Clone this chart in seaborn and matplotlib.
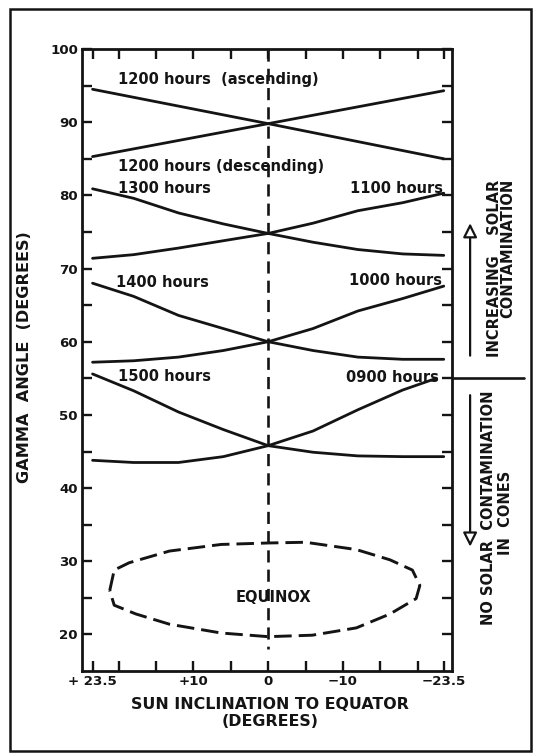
import pandas as pd
import matplotlib
matplotlib.use("Agg")
import matplotlib.pyplot as plt
import matplotlib.transforms as mtransforms
from matplotlib.patches import Rectangle
import seaborn as sns

#%% data
# sun inclination to equator (deg), +23.5 drawn on the left
incl = [23.5, 18, 12, 6, 0, -6, -12, -18, -23.5]
incl_straight = [23.5, 0, -23.5]
incl_0900 = [23.5, 18, 12, 6, 0, -6, -12, -18, -22.5]

gamma_1200_asc = [94.5, 89.8, 85.0]
gamma_1200_desc = [85.3, 89.8, 94.3]
gamma_1300 = [80.9, 79.6, 77.6, 76.1, 74.8, 73.6, 72.6, 72.0, 71.8]
gamma_1100 = [71.4, 71.9, 72.8, 73.8, 74.8, 76.2, 77.9, 79.0, 80.3]
gamma_1400 = [68.0, 66.2, 63.6, 61.8, 60.0, 58.8, 57.9, 57.6, 57.6]
gamma_1000 = [57.2, 57.4, 57.9, 58.8, 60.0, 61.8, 64.2, 65.9, 67.6]
gamma_1500 = [55.6, 53.3, 50.4, 48.0, 45.8, 44.9, 44.4, 44.3, 44.3]
gamma_0900 = [43.8, 43.5, 43.5, 44.3, 45.8, 47.8, 50.7, 53.4, 55.0]

# equinox loop
equinox_x = [21.2, 20.6, 18.6, 13.2, 6.3, 0, -5.0, -11.8, -16.3, -19.3, -20.3,
             -19.8, -16.3, -11.8, -5.9, 0, 6.3, 13.2, 17.7, 20.6, 21.2]
equinox_y = [26.0, 28.8, 29.8, 31.4, 32.3, 32.5, 32.6, 31.6, 30.2, 28.8, 26.7,
             24.9, 22.8, 20.9, 19.9, 19.7, 20.2, 21.4, 22.8, 24.0, 26.0]

equator_x = [0, 0]
equator_y = [100, 18]

threshold = 55  # solar contamination limit

labels = ["1200 hours  (ascending)", "1200 hours (descending)", "1300 hours",
          "1100 hours", "1400 hours", "1000 hours", "1500 hours", "0900 hours"]
label_x = [20.1, 20.1, 20.1, -23.4, 20.3, -23.2, 20.1, -22.9]
label_y = [95.9, 83.9, 80.9, 80.9, 68.1, 68.3, 55.3, 55.1]
label_ha = ["left", "left", "left", "right", "left", "right", "left", "right"]

xticks = [23.5, 20, 15, 10, 5, 0, -5, -10, -15, -20, -23.5]
xticklabels = ["+ 23.5", "", "", "+10", "", "0", "", "\u221210", "", "", "\u221223.5"]
yticks = list(range(20, 101, 5))
yticklabels = [str(v) if v % 10 == 0 else "" for v in yticks]

#%% long table for the hour curves
curves = [("1200a", incl_straight, gamma_1200_asc), ("1200d", incl_straight, gamma_1200_desc),
          ("1300", incl, gamma_1300), ("1100", incl, gamma_1100),
          ("1400", incl, gamma_1400), ("1000", incl, gamma_1000),
          ("1500", incl, gamma_1500), ("0900", incl_0900, gamma_0900)]
rows = []
for name, xs, ys in curves:
    for x, y in zip(xs, ys):
        rows.append({"curve": name, "incl": x, "gamma": y})
df = pd.DataFrame(rows)

ink = "#141414"

sns.set_theme(style="ticks")
plt.rcParams["font.family"] = ["DejaVu Sans"]
plt.rcParams["font.weight"] = "bold"

fig = plt.figure(figsize=(5.33, 7.54), dpi=100)
ax = fig.add_axes([0.154, 0.110, 0.694, 0.825])

sns.lineplot(data=df, x="incl", y="gamma", units="curve", estimator=None,
             sort=False, color=ink, lw=2.0, ax=ax)
sns.lineplot(x=equinox_x, y=equinox_y, estimator=None, sort=False, color=ink,
             lw=2.1, linestyle=(0, (6.0, 2.4)), ax=ax)
sns.lineplot(x=equator_x, y=equator_y, estimator=None, sort=False, color=ink,
             lw=1.9, linestyle=(0, (4.6, 2.7)), ax=ax)

for t, x, y, ha in zip(labels, label_x, label_y, label_ha):
    ax.text(x, y, t, ha=ha, va="center", fontsize=10.5, fontweight="bold", color=ink)
ax.text(-0.7, 25.1, "EQUINOX", ha="center", va="center", fontsize=10.5,
        fontweight="bold", color=ink)

ax.set_xlim(24.9, -24.6)
ax.set_ylim(15, 100)
ax.set_xticks(xticks)
ax.set_xticklabels(xticklabels)
ax.set_yticks(yticks)
ax.set_yticklabels(yticklabels)
ax.tick_params(direction="in", length=7.5, width=1.7, top=True, right=True,
               labelsize=9.6, colors=ink, pad=3)
for lab in ax.get_xticklabels() + ax.get_yticklabels():
    lab.set_fontweight("bold")
for s in ax.spines.values():
    s.set_linewidth(2.0)
    s.set_color(ink)

ax.set_xlabel("SUN INCLINATION TO EQUATOR\n(DEGREES)", fontsize=11.4,
              fontweight="bold", color=ink, linespacing=1.15)
ax.xaxis.set_label_coords(0.508, -0.042)
ax.set_ylabel("GAMMA  ANGLE  (DEGREES)", fontsize=11.6, fontweight="bold", color=ink)
ax.yaxis.set_label_coords(-0.135, 0.505)

# right-hand annotations
trans = mtransforms.blended_transform_factory(ax.transAxes, ax.transData)
ax.plot([1.0, 1.195], [threshold, threshold], transform=trans, color=ink,
        lw=1.9, clip_on=False)
arrow_kw = dict(arrowstyle="-|>,head_length=0.6,head_width=0.3", fc="white",
                ec=ink, lw=1.6, shrinkA=0, shrinkB=0, mutation_scale=14)
ax.annotate("", xy=(1.049, 76.2), xytext=(1.049, 58.1), xycoords=trans,
            textcoords=trans, arrowprops=arrow_kw, annotation_clip=False)
ax.annotate("", xy=(1.049, 32.0), xytext=(1.049, 52.7), xycoords=trans,
            textcoords=trans, arrowprops=arrow_kw, annotation_clip=False)
side_kw = dict(transform=trans, rotation=90, fontsize=10.5, fontweight="bold",
               color=ink, ha="center", clip_on=False)
ax.text(1.114, 82.2, "INCREASING    SOLAR", va="top", **side_kw)
ax.text(1.152, 82.3, "CONTAMINATION", va="top", **side_kw)
ax.text(1.10, 37.3, "NO SOLAR  CONTAMINATION", va="center", **side_kw)
ax.text(1.145, 36.6, "IN  CONES", va="center", **side_kw)

# outer frame of the plate
fig.add_artist(Rectangle((0.019, 0.004), 0.977, 0.984, transform=fig.transFigure,
                         fill=False, lw=1.8, ec=ink))

fig.savefig("out.png", dpi=100, facecolor="white")
